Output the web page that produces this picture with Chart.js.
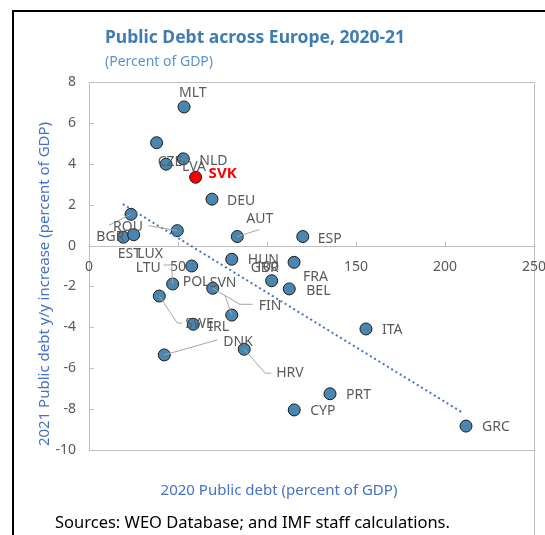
<!DOCTYPE html>
<html>
<head>
<meta charset="utf-8">
<script src="https://cdn.jsdelivr.net/npm/chart.js@4/dist/chart.umd.min.js"></script>
<style>
  html, body { margin: 0; padding: 0; background: #fff; }
  #wrap { width: 545px; height: 535px; position: relative; }
</style>
</head>
<body>
<div id="wrap"><canvas id="debtChart" width="545" height="535"></canvas></div>
<script>
// Data
const countries = ['MLT', 'CZE', 'NLD', 'LVA', 'SVK', 'DEU', 'ROU', 'LUX', 'BGR', 'EST', 'AUT', 'ESP', 'POL', 'HUN',
    'FRA', 'GBR', 'BEL', 'LTU', 'FIN', 'SWE', 'SVN', 'IRL', 'DNK', 'HRV', 'ITA', 'PRT', 'CYP', 'GRC'];
const debt2020 = [53.4, 38.0, 53.0, 43.3, 59.9, 69.1, 23.6, 49.6, 19.3, 25.1, 83.3, 120.1, 57.7, 80.2,
    115.2, 102.6, 112.5, 47.0, 69.5, 39.5, 80.2, 58.6, 42.3, 87.2, 155.6, 135.4, 115.3, 211.8];
const debtChange2021 = [6.78, 5.03, 4.24, 3.98, 3.34, 2.27, 1.53, 0.73, 0.41, 0.53, 0.44, 0.44, -1.0, -0.67,
    -0.82, -1.72, -2.12, -1.88, -2.09, -2.47, -3.40, -3.85, -5.35, -5.07, -4.08, -7.25, -8.04, -8.83];
const trendX = [19, 210];
const trendY = [2.03, -8.18];
const xTicks = [0, 50, 100, 150, 200, 250];
const yTicks = [-10, -8, -6, -4, -2, 0, 2, 4, 6, 8];
const highlight = 'SVK';

// Label placement (pixel offsets from the marker), leader lines as offset paths
const labelPos = {
    MLT: [-5, -14], CZE: [1, 19], NLD: [16, 2], LVA: [16, 3], SVK: [13, -4], DEU: [15, 2],
    ROU: [-18, 13], LUX: [-40, 23], BGR: [-27, 0], EST: [-16, 19], AUT: [9, -18], ESP: [15, 2],
    POL: [-9, 16], HUN: [16, 1], FRA: [9, 15], GBR: [-21, -13], BEL: [17, 2], LTU: [-37, -16],
    FIN: [46, 18], SWE: [26, 28], SVN: [-22, -32], IRL: [15, 3], DNK: [59, -13], HRV: [32, 24],
    ITA: [16, 1], PRT: [16, 1], CYP: [16, 1], GRC: [16, 1]
};
const leaders = {
    ROU: [[-22, 11]],
    LUX: [[-29, -5]],
    AUT: [[22, -7]],
    LTU: [[-1, -19], [-9, -19]],
    FIN: [[27, 16], [40, 16]],
    SWE: [[18, 27], [23, 27]],
    SVN: [[-7, -20]],
    DNK: [[53, -15]],
    HRV: [[21, 24], [27, 24]]
};

const FONT = '"Noto Sans", "DejaVu Sans", sans-serif';
const gray = '#bfbfbf';
const textGray = '#595959';

const points = countries.map((c, i) => ({ x: debt2020[i], y: debtChange2021[i] }));
const trendPoints = trendX.map((x, i) => ({ x: x, y: trendY[i] }));

// Frame, inside tick marks, tick labels, titles and notes
const decorPlugin = {
    id: 'decor',
    beforeDatasetsDraw(chart) {
        const ctx = chart.ctx;
        const a = chart.chartArea;
        const xs = chart.scales.x, ys = chart.scales.y;
        const y0 = Math.round(ys.getPixelForValue(0)) + 0.5;
        ctx.save();
        ctx.strokeStyle = gray;
        ctx.lineWidth = 1;
        ctx.beginPath();
        ctx.moveTo(a.left + 0.5, a.bottom + 0.5);
        ctx.lineTo(a.left + 0.5, a.top + 0.5);
        ctx.lineTo(a.right + 0.5, a.top + 0.5);
        ctx.lineTo(a.right + 0.5, chart.height);
        ctx.moveTo(a.left + 0.5, a.bottom + 0.5);
        ctx.lineTo(a.right + 0.5, a.bottom + 0.5);
        ctx.moveTo(a.left, y0);
        ctx.lineTo(a.right, y0);
        // y ticks point into the plot
        yTicks.forEach(v => {
            const py = Math.round(ys.getPixelForValue(v)) + 0.5;
            ctx.moveTo(a.left, py);
            ctx.lineTo(a.left + 5, py);
        });
        // x ticks point up from the zero line
        xTicks.forEach(v => {
            const px = Math.round(xs.getPixelForValue(v)) + 0.5;
            ctx.moveTo(px, y0);
            ctx.lineTo(px, y0 - 5);
        });
        ctx.stroke();

        ctx.fillStyle = textGray;
        ctx.font = '14px ' + FONT;
        ctx.textBaseline = 'middle';
        ctx.textAlign = 'right';
        yTicks.forEach(v => ctx.fillText(String(v), a.left - 13, ys.getPixelForValue(v)));
        ctx.textAlign = 'center';
        xTicks.forEach(v => ctx.fillText(String(v), xs.getPixelForValue(v), y0 + 21));
        ctx.restore();
    },
    afterDraw(chart) {
        const ctx = chart.ctx;
        ctx.save();
        // outer black frame (top and left)
        ctx.strokeStyle = '#000';
        ctx.lineWidth = 2;
        ctx.beginPath();
        ctx.moveTo(13, chart.height);
        ctx.lineTo(13, 11);
        ctx.lineTo(chart.width, 11);
        ctx.stroke();

        ctx.textBaseline = 'middle';
        ctx.textAlign = 'left';
        ctx.fillStyle = '#3f7cb0';
        ctx.font = 'bold 17.5px ' + FONT;
        ctx.fillText('Public Debt across Europe, 2020-21', 105, 38);
        ctx.fillStyle = '#5b93cc';
        ctx.font = '14px ' + FONT;
        ctx.fillText('(Percent of GDP)', 105, 62);

        ctx.fillStyle = '#4472c4';
        ctx.textAlign = 'center';
        ctx.font = '15px ' + FONT;
        ctx.fillText('2020 Public debt (percent of GDP)', 279, 491);
        ctx.save();
        ctx.translate(45, 284);
        ctx.rotate(-Math.PI / 2);
        ctx.fillText('2021 Public debt y/y increase (percent of GDP)', 0, 0);
        ctx.restore();

        ctx.fillStyle = '#000';
        ctx.textAlign = 'left';
        ctx.font = '16.5px ' + FONT;
        ctx.fillText('Sources: WEO Database; and IMF staff calculations.', 55, 523);
        ctx.restore();
    }
};

// Country labels with leader lines
const labelPlugin = {
    id: 'countryLabels',
    afterDatasetsDraw(chart) {
        const ctx = chart.ctx;
        const meta = chart.getDatasetMeta(1);
        ctx.save();
        ctx.textBaseline = 'middle';
        ctx.textAlign = 'left';
        countries.forEach((c, i) => {
            const el = meta.data[i];
            const px = el.x, py = el.y;
            if (leaders[c]) {
                ctx.strokeStyle = '#a6a6a6';
                ctx.lineWidth = 1;
                ctx.beginPath();
                ctx.moveTo(px, py);
                leaders[c].forEach(p => ctx.lineTo(px + p[0], py + p[1]));
                ctx.stroke();
            }
            const off = labelPos[c];
            if (c === highlight) {
                ctx.fillStyle = '#ff0000';
                ctx.font = 'bold 15px ' + FONT;
            } else {
                ctx.fillStyle = textGray;
                ctx.font = '14px ' + FONT;
            }
            ctx.fillText(c, px + off[0], py + off[1]);
        });
        ctx.restore();
    }
};

const ctx = document.getElementById('debtChart').getContext('2d');
const debtChart = new Chart(ctx, {
    type: 'scatter',
    data: {
        datasets: [{
            type: 'line',
            label: 'Trend',
            data: trendPoints,
            borderColor: '#4472c4',
            borderWidth: 2,
            borderDash: [2, 3],
            pointRadius: 0,
            fill: false
        }, {
            label: 'Countries',
            data: points,
            pointRadius: 6,
            pointBorderWidth: 1,
            pointBorderColor: '#1a1a1a',
            pointBackgroundColor: countries.map(c => c === highlight ? '#ff0000' : '#4a86b0')
        }]
    },
    options: {
        responsive: false,
        animation: false,
        layout: { padding: { left: 59, top: 82, right: 11, bottom: 85 } },
        plugins: {
            legend: { display: false },
            tooltip: { enabled: false }
        },
        scales: {
            x: {
                type: 'linear',
                position: { y: 0 },
                min: 0,
                max: 250,
                afterBuildTicks: s => { s.ticks = xTicks.map(v => ({ value: v })); },
                ticks: { display: false },
                grid: { display: false, drawTicks: false },
                border: { display: false }
            },
            y: {
                type: 'linear',
                min: -10,
                max: 8,
                afterBuildTicks: s => { s.ticks = yTicks.map(v => ({ value: v })); },
                afterFit: s => { s.width = 30; },
                ticks: { display: false },
                grid: { display: false, drawTicks: false },
                border: { display: false }
            }
        }
    },
    plugins: [decorPlugin, labelPlugin]
});
</script>
</body>
</html>
